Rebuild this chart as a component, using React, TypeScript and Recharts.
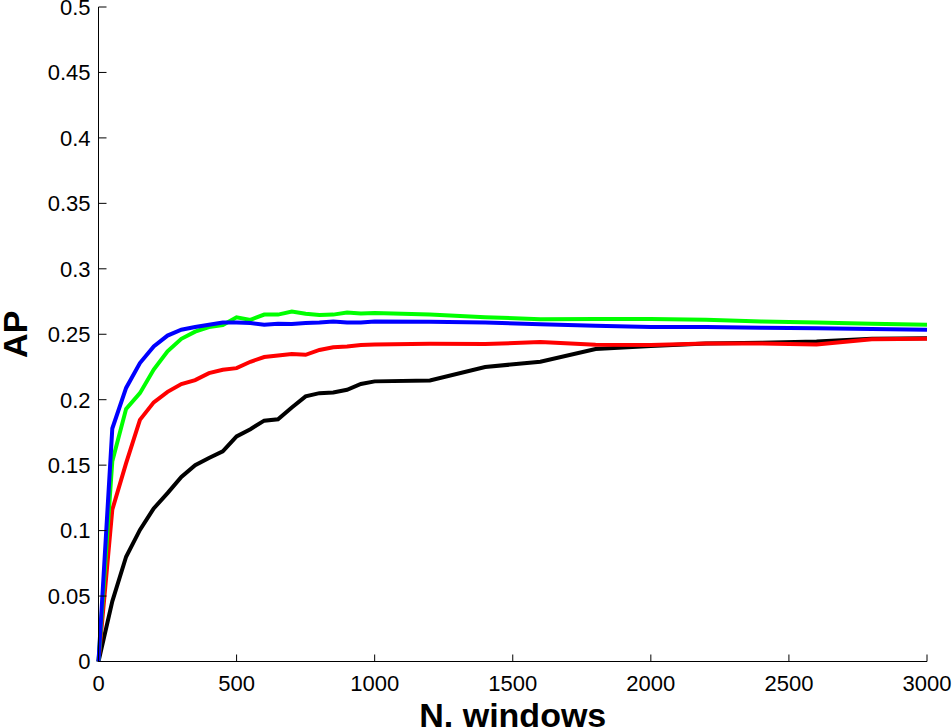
import React from 'react';
import { LineChart, Line, XAxis, YAxis, Label } from 'recharts';

// number of windows (x) and AP curves
const windows = [
  0, 50, 100, 150, 200, 250, 300, 350, 400, 450, 500, 550, 600, 650, 700, 750, 800, 850, 900, 950, 1000,
  1200, 1400, 1600, 1800, 2000, 2200, 2400, 2600, 2800, 3000,
];

const blackAP = [
  0, 0.046, 0.08, 0.1005, 0.117, 0.1286, 0.141, 0.15, 0.1555, 0.1606, 0.172, 0.1775, 0.184, 0.185, 0.194,
  0.2025, 0.205, 0.2055, 0.2076, 0.212, 0.214, 0.2147, 0.225, 0.229, 0.2387, 0.241, 0.243, 0.2435, 0.2445,
  0.2465, 0.247,
];

const redAP = [
  0, 0.116, 0.1515, 0.1846, 0.198, 0.206, 0.212, 0.215, 0.2203, 0.2229, 0.2241, 0.229, 0.2326, 0.2338, 0.2349,
  0.2343, 0.238, 0.24, 0.2407, 0.2417, 0.2422, 0.2428, 0.2425, 0.244, 0.242, 0.2418, 0.243, 0.243, 0.2422,
  0.2462, 0.2465,
];

const greenAP = [
  0, 0.153, 0.193, 0.205, 0.223, 0.237, 0.2465, 0.252, 0.2555, 0.257, 0.263, 0.261, 0.265, 0.265, 0.2674,
  0.2657, 0.2647, 0.265, 0.2666, 0.2658, 0.2662, 0.265, 0.263, 0.2615, 0.2616, 0.2616, 0.261, 0.2598, 0.259,
  0.258, 0.2573,
];

const blueAP = [
  0, 0.178, 0.209, 0.228, 0.2407, 0.249, 0.2535, 0.2555, 0.2573, 0.259, 0.259, 0.2586, 0.2573, 0.258, 0.2579,
  0.2586, 0.259, 0.2598, 0.259, 0.259, 0.2598, 0.2595, 0.259, 0.2577, 0.2565, 0.2555, 0.2555, 0.255, 0.2545,
  0.254, 0.2534,
];

const xTicks = [0, 500, 1000, 1500, 2000, 2500, 3000];
const yTicks = [0, 0.05, 0.1, 0.15, 0.2, 0.25, 0.3, 0.35, 0.4, 0.45, 0.5];

const data = windows.map((w, i) => ({
  windows: w,
  black: blackAP[i],
  red: redAP[i],
  green: greenAP[i],
  blue: blueAP[i],
}));

const font = '"Liberation Sans", Arial, Helvetica, sans-serif';
const tickStyle = { fontSize: 22, fill: '#000', fontFamily: font };

export default function App() {
  return (
    <div style={{ position: 'absolute', left: 0, top: 0, width: 952, height: 728, background: '#fff' }}>
      <LineChart width={952} height={728} data={data} margin={{ top: 7, right: 25, bottom: 0, left: 0 }}>
        <XAxis
          dataKey="windows"
          type="number"
          domain={[0, 3000]}
          ticks={xTicks}
          height={66.5}
          stroke="#000"
          tick={tickStyle}
          tickSize={-7}
          tickMargin={21}
          interval={0}
        >
          <Label
            content={({ viewBox }: any) => (
              <text
                x={viewBox.x + viewBox.width / 2}
                y={viewBox.y + viewBox.height - 1.5}
                textAnchor="middle"
                fontFamily={font}
                fontWeight="bold"
                fontSize={34}
                fill="#000"
              >
                N. windows
              </text>
            )}
          />
        </XAxis>
        <YAxis
          type="number"
          domain={[0, 0.5]}
          ticks={yTicks}
          width={98.5}
          stroke="#000"
          tick={tickStyle}
          tickSize={-8}
          tickMargin={16}
          interval={0}
        >
          <Label
            content={({ viewBox }: any) => {
              const cx = 27;
              const cy = viewBox.y + viewBox.height / 2;
              return (
                <text
                  x={cx}
                  y={cy}
                  transform={`rotate(-90, ${cx}, ${cy})`}
                  textAnchor="middle"
                  fontFamily={font}
                  fontWeight="bold"
                  fontSize={34}
                  fill="#000"
                >
                  AP
                </text>
              );
            }}
          />
        </YAxis>
        <Line dataKey="black" type="linear" stroke="#000000" strokeWidth={4} dot={false} isAnimationActive={false} />
        <Line dataKey="red" type="linear" stroke="#ff0000" strokeWidth={4} dot={false} isAnimationActive={false} />
        <Line dataKey="green" type="linear" stroke="#00ff00" strokeWidth={4} dot={false} isAnimationActive={false} />
        <Line dataKey="blue" type="linear" stroke="#0000ff" strokeWidth={4} dot={false} isAnimationActive={false} />
      </LineChart>
    </div>
  );
}
